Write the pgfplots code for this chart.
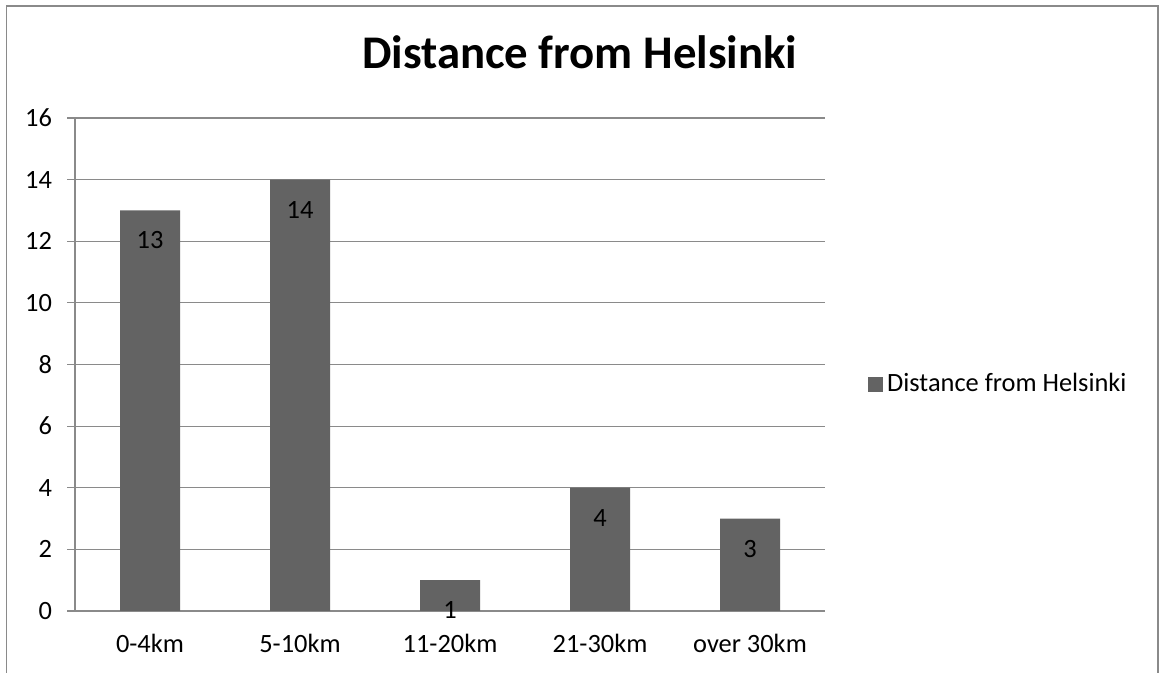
\documentclass[border=0pt]{standalone}
\usepackage{fontspec}
\setmainfont{Carlito}
\usepackage{pgfplots}
\pgfplotsset{compat=1.18}
\definecolor{barcol}{HTML}{636363}
\definecolor{gridcol}{HTML}{8A8A8A}
\begin{document}
\begin{tikzpicture}
% page: 1160x673 px, 1px = 0.5pt
\path[use as bounding box] (0,0) rectangle (580pt,336.5pt);
\draw[gridcol, line width=0.6pt] (3.25pt,-1pt) -- (3.25pt,333.5pt) -- (579pt,333.5pt) -- (579pt,-1pt);
\begin{axis}[
    at={(37.5pt,31pt)}, anchor=south west,
    scale only axis,
    width=375pt, height=246.5pt,
    ybar, bar width=30pt,
    xmin=-0.5, xmax=4.5,
    ymin=0, ymax=16,
    ytick={0,2,...,16},
    xtick={0,1,2,3,4},
    xticklabels={0-4km, 5-10km, 11-20km, 21-30km, over 30km},
    extra x ticks={-0.5,0.5,1.5,2.5,3.5,4.5},
    extra x tick labels={},
    extra x tick style={major tick length=4pt, tick style={gridcol, line width=0.6pt}},
    axis x line*=bottom, axis y line*=left,
    axis line style={gridcol, line width=0.6pt},
    x tick style={draw=none},
    y tick style={gridcol, line width=0.6pt},
    tick align=outside,
    major tick length=4pt,
    ymajorgrids,
    major grid style={gridcol, line width=0.6pt},
    /pgf/number format/assume math mode=true,
    ticklabel style={font=\fontsize{13.2}{15}\selectfont},
    yticklabel style={xshift=-4pt},
    xticklabel style={yshift=-4pt},
    nodes near coords,
    nodes near coords style={font=\fontsize{13.2}{15}\selectfont, anchor=center, yshift=-15pt, black},
    title={\textbf{Distance from Helsinki}},
    title style={font=\fontsize{23.4}{27}\selectfont, at={(0.673,1.108)}, anchor=center},
    legend style={at={(1.057,0.46)}, anchor=west, draw=none, font=\fontsize{13.2}{15}\selectfont, inner sep=0pt,
        legend cell align=left},
    legend image code/.code={\fill[barcol] (0pt,-3.75pt) rectangle (7.5pt,3.75pt);},
]
\addplot[fill=barcol, draw=none] coordinates {(0,13) (1,14) (2,1) (3,4) (4,3)};
\addlegendentry{Distance from Helsinki}
\end{axis}
\end{tikzpicture}
\end{document}
